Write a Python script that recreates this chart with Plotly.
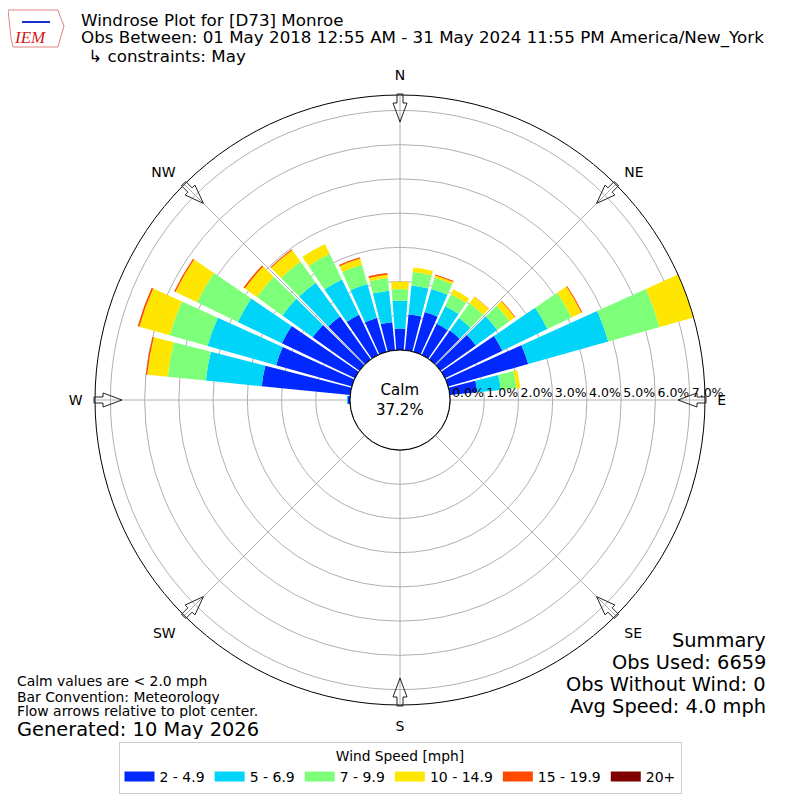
import math
import plotly.graph_objects as go

# ---------------- data ----------------
directions = [i * 10 for i in range(36)]
compass_vals = [0, 45, 90, 135, 180, 225, 270, 315]
compass_labels = ["N", "NE", "E", "SE", "S", "SW", "W", "NW"]
radial_ticks = [0, 1, 2, 3, 4, 5, 6, 7]
radial_labels = ["0.0%", "1.0%", "2.0%", "3.0%", "4.0%", "5.0%", "6.0%", "7.0%"]

bin_names = ["2 - 4.9", "5 - 6.9", "7 - 9.9", "10 - 14.9", "15 - 19.9", "20+"]
bin_colors = ["#0028ff", "#00d4f8", "#7dff7a", "#ffe600", "#ff4a00", "#800000"]

#             0     10    20    30    40    50    60    70    80   90..260 (18 zeros)            270   280   290   300   310   320   330   340   350
speed_2_5 = [0.63, 1.06, 1.21, 1.01, 1.04, 1.27, 1.86, 2.43, 0.81] + [0] * 18 + [0.06, 2.60, 2.30, 2.37, 1.68, 1.54, 1.30, 1.03, 0.82]
speed_5_7 = [0.81, 0.84, 0.70, 0.57, 0.45, 0.77, 1.46, 2.43, 0.69] + [0] * 18 + [0.03, 1.64, 2.08, 1.43, 1.09, 1.22, 1.15, 1.03, 0.93]
speed_7_10 = [0.34, 0.40, 0.34, 0.39, 0.53, 0.44, 0.78, 1.56, 0.46] + [0] * 18 + [0.00, 1.12, 1.15, 1.32, 0.92, 0.76, 0.83, 0.58, 0.37]
speed_10_15 = [0.22, 0.13, 0.07, 0.16, 0.23, 0.19, 0.32, 1.03, 0.11] + [0] * 18 + [0.00, 0.60, 0.92, 0.70, 0.43, 0.41, 0.32, 0.19, 0.10]
speed_15_20 = [0.00, 0.00, 0.03, 0.00, 0.01, 0.02, 0.03, 0.00, 0.00] + [0] * 18 + [0.00, 0.04, 0.05, 0.04, 0.05, 0.03, 0.00, 0.04, 0.05]
speed_20p = [0.0] * 36

calm_pct = 37.2
radial_max = 7.45

series = [speed_2_5, speed_5_7, speed_7_10, speed_10_15, speed_15_20, speed_20p]

# ---------------- figure ----------------
FONT = "DejaVu Sans"
S = 792          # figure size (page body has an 8px margin)
OFF = 8


def px(X):
    return (X - OFF) / S


def py(Y):
    return 1 - (Y - OFF) / S


fig = go.Figure()

for name, color, vals in zip(bin_names, bin_colors, series):
    fig.add_trace(go.Barpolar(
        r=vals, theta=directions, name=name, width=8.6,
        marker=dict(color=color, line=dict(width=0)),
        hoverinfo="skip", showlegend=False,
    ))

# legend entries with wide swatches
for name, color in zip(bin_names, bin_colors):
    fig.add_trace(go.Scatterpolar(
        r=[None], theta=[None], mode="lines", name=name,
        line=dict(color=color, width=10), hoverinfo="skip",
    ))

# calm circle (edge of hole)
fig.add_trace(go.Scatterpolar(
    r=[0] * 361, theta=list(range(361)), mode="lines",
    line=dict(color="black", width=1), showlegend=False, hoverinfo="skip",
))

# overlay polar used only for left-aligned radial tick labels
fig.add_trace(go.Scatterpolar(r=[None], theta=[None], subplot="polar2",
                              showlegend=False, hoverinfo="skip"))

LBL_SHIFT = 18  # px: labels start just right of their tick, as in the reference
fig.update_layout(
    width=S, height=S,
    margin=dict(l=0, r=0, t=0, b=0),
    paper_bgcolor="white",
    font=dict(family=FONT, color="black", size=13),
    polar=dict(
        domain=dict(x=[px(95), px(705)], y=[py(705), py(95)]),
        bgcolor="white",
        hole=50 / 305,
        barmode="stack",
        angularaxis=dict(
            rotation=90, direction="clockwise",
            tickmode="array", tickvals=compass_vals, ticktext=compass_labels,
            showgrid=True, gridcolor="#b0b0b0", gridwidth=0.8,
            showline=True, linecolor="black", linewidth=1,
            ticks="outside", ticklen=9, tickcolor="rgba(0,0,0,0)",
            tickfont=dict(size=14, family=FONT),
        ),
        radialaxis=dict(
            range=[0, radial_max], angle=0,
            tickmode="array", tickvals=radial_ticks,
            showticklabels=False,
            showgrid=True, gridcolor="#b0b0b0", gridwidth=0.8,
            showline=False, ticks="",
        ),
    ),
    polar2=dict(
        domain=dict(x=[px(95 + LBL_SHIFT), px(705 + LBL_SHIFT)], y=[py(705), py(95)]),
        bgcolor="rgba(0,0,0,0)",
        hole=50 / 305,
        angularaxis=dict(visible=False, rotation=90, direction="clockwise",
                         showgrid=False, showline=False, showticklabels=False, ticks=""),
        radialaxis=dict(
            range=[0, radial_max], angle=0, side="counterclockwise",
            tickmode="array", tickvals=radial_ticks, ticktext=radial_labels, tickangle=0,
            showgrid=False, showline=False, ticks="",
            tickfont=dict(size=12.5, family=FONT),
        ),
    ),
    legend=dict(
        orientation="h", x=px(400), xanchor="center", y=py(742), yanchor="top",
        bordercolor="#cccccc", borderwidth=1, bgcolor="white",
        font=dict(size=14, family=FONT),
        title=dict(text="Wind Speed [mph]", side="top center", font=dict(size=13.8, family=FONT)),
    ),
)

# flow arrows at compass points (decoration)
shapes = []
arrow_pts = [(306, -3), (297, -3), (297, -7), (278, 0), (297, 7), (297, 3), (306, 3)]
for ang in compass_vals:
    t = math.radians(ang)
    pts = []
    for a, p in arrow_pts:
        X = 400 + a * math.sin(t) + p * math.cos(t)
        Y = 400 - a * math.cos(t) + p * math.sin(t)
        pts.append((px(X), py(Y)))
    path = "M " + " L ".join(f"{x:.5f},{y:.5f}" for x, y in pts) + " Z"
    shapes.append(dict(type="path", xref="paper", yref="paper", path=path,
                       line=dict(color="#222222", width=1), fillcolor="rgba(0,0,0,0)"))

# IEM logo approximation
logo = [(8, 10), (58, 10), (60, 16), (64, 26), (61, 36), (58, 47), (13, 47), (11, 38), (8, 10)]
shapes.append(dict(type="path", xref="paper", yref="paper",
                   path="M " + " L ".join(f"{px(x):.5f},{py(y):.5f}" for x, y in logo) + " Z",
                   line=dict(color="#e08080", width=1), fillcolor="rgba(0,0,0,0)"))
shapes.append(dict(type="line", xref="paper", yref="paper",
                   x0=px(22), x1=px(50), y0=py(22), y1=py(22),
                   line=dict(color="#1a2fd0", width=2)))
fig.update_layout(shapes=shapes)


def ann(text, x, y, size, xanchor="left", color="black", family=FONT, h=None, valign="middle"):
    kw = {}
    if h is not None:
        kw["height"] = h
    fig.add_annotation(text=text, x=px(x), y=py(y), xref="paper", yref="paper",
                       xanchor=xanchor, yanchor="middle", showarrow=False, borderpad=0,
                       valign=valign,
                       font=dict(size=size, color=color, family=family), align=xanchor, **kw)


ann("Windrose Plot for [D73] Monroe", 80, 21, 16.7, h=18, valign="bottom")
ann("Obs Between: 01 May 2018 12:55 AM - 31 May 2024 11:55 PM America/New_York", 80, 39, 16.7, h=18, valign="bottom")
ann(" ↳ constraints: May", 82, 57, 16.7, h=18, valign="bottom")
ann("<i>IEM</i>", 30, 38, 17, xanchor="center", color="#cc2020", family="Liberation Serif")

ann("Calm values are < 2.0 mph", 16, 680, 13.9, h=15)
ann("Bar Convention: Meteorology", 16, 696, 13.9, h=15)
ann("Flow arrows relative to plot center.", 16, 711, 13.9, h=14)
ann("Generated: 10 May 2026", 16, 729, 19.4, h=20)

ann("Summary", 767, 640, 19.4, xanchor="right", h=21)
ann("Obs Used: 6659", 767, 662, 19.4, xanchor="right", h=21)
ann("Obs Without Wind: 0", 767, 684, 19.4, xanchor="right", h=21)
ann("Avg Speed: 4.0 mph", 767, 706, 19.4, xanchor="right", h=21)

fig.add_annotation(text=f"Calm<br>{calm_pct:.1f}%", x=px(400), y=py(400), xref="paper", yref="paper",
                   showarrow=False, font=dict(size=15, family=FONT), align="center")

fig.write_html("out.html")
